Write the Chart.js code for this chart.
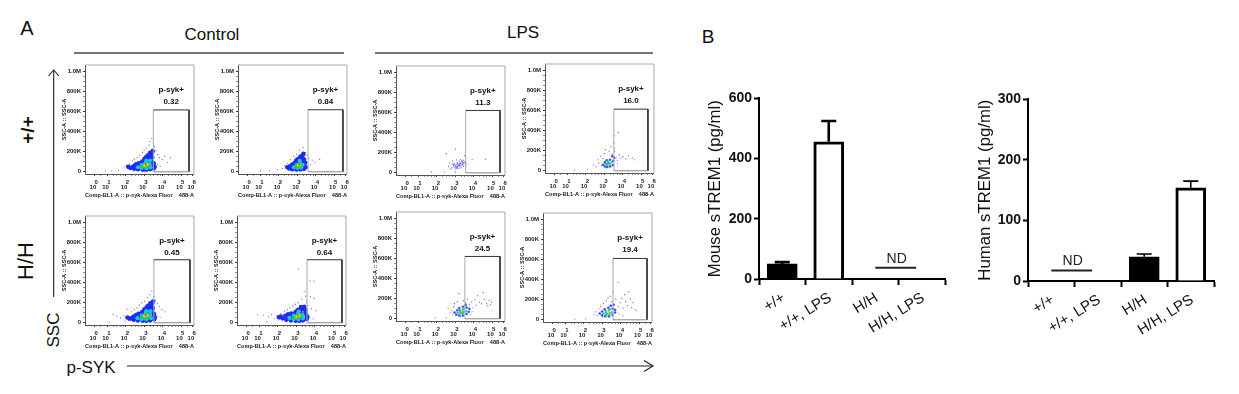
<!DOCTYPE html>
<html>
<head>
<meta charset="utf-8">
<title>p-SYK flow cytometry and sTREM1</title>
<script src="https://cdn.jsdelivr.net/npm/chart.js@4"></script>
<style>
html,body{margin:0;padding:0;background:#fff;width:1239px;height:394px;overflow:hidden}
body{position:relative;font-family:"Liberation Sans",Arial,sans-serif;color:#111}
canvas{position:absolute;display:block}
canvas.flow{filter:blur(0.4px)}
.t{position:absolute;white-space:nowrap;line-height:1;transform:translate(-50%,-50%)}
.r{transform:translate(-50%,-50%) rotate(-90deg)}
svg{position:absolute;left:0;top:0}
</style>
</head>
<body>
<svg width="1239" height="394" fill="none" stroke="#222">
  <line x1="74" y1="53" x2="344" y2="53" stroke="#444" stroke-width="1.3"/>
  <line x1="375" y1="53" x2="653" y2="53" stroke="#444" stroke-width="1.3"/>
  <line x1="53.7" y1="70" x2="53.7" y2="297" stroke-width="1.1"/>
  <polyline points="48.5,76 53.7,70 58.9,76" stroke-width="1.1"/>
  <line x1="127" y1="366" x2="653" y2="366" stroke-width="1.1"/>
  <polyline points="644,360.5 653,366 644,371.5" stroke-width="1.1"/>
</svg>
<div class="t" style="left:27px;top:28px;font-size:20px">A</div>
<div class="t" style="left:708px;top:36px;font-size:19px">B</div>
<div class="t" style="left:212px;top:34px;font-size:17px">Control</div>
<div class="t" style="left:523px;top:32px;font-size:17px">LPS</div>
<div class="t r" style="left:27px;top:130px;font-size:19px;font-weight:bold">+/+</div>
<div class="t r" style="left:26px;top:261px;font-size:22px">H/H</div>
<div class="t r" style="left:53px;top:330px;font-size:17px">SSC</div>
<div class="t" style="left:91px;top:367px;font-size:17px">p-SYK</div>

<script>
/* ---------- Panel A: axes ---------- */
const flowXTicks = [0.32, 1, 2, 3, 4, 5, 5.62];
const flowXExponents = ['0', '1', '2', '3', '4', '5', '6'];
const flowXMinor = [0.6, 1.3, 1.5, 1.7, 1.85, 2.3, 2.5, 2.7, 2.85, 3.3, 3.5, 3.7, 3.85, 4.3, 4.5, 4.7, 4.85, 5.3];
const flowYMajor = [0, 200, 400, 600, 800, 1000];
const flowYLabels = ['0', '200K', '400K', '600K', '800K', '1.0M'];
const flowYMinor = [50, 100, 150, 250, 300, 350, 450, 500, 550, 650, 700, 750, 850, 900, 950];
const flowXTitle = 'Comp-BL1-A :: p-syk-Alexa Fluor    488-A';
const flowYTitle = 'SSC-A :: SSC-A';
const gateName = 'p-syk+';

/* Percentages and gates: [x from, x to, SSC top] */
const gateValues = ['0.32', '0.84', '11.3', '16.0', '0.45', '0.64', '24.5', '19.4'];
const gateBounds = [[3.48,5.41,615],[3.57,5.46,617],[3.55,5.41,620],[3.51,5.35,613],[3.51,5.46,627],[3.57,5.46,627],[3.51,5.41,620],[3.57,5.41,610]];

/* Events as [log position, SSC in K], by density colour */
const p1Sparse = [[1.9,40],[2.0,62],[2.12,30],[2.2,78],[2.35,110],[2.45,125],[2.6,140],[2.75,165],[2.9,190],[2.98,215],[3.1,235],[3.25,265],[3.3,300],[3.4,330],[3.55,250],[3.62,210],[3.72,170],[3.8,140],[3.95,120],[4.1,155],[4.25,95],[4.4,140],[3.7,75],[3.85,55],[1.6,12],[1.2,8],[0.9,10],[2.4,8],[3.0,6]];
const p1Blue = [[2.25,38],[2.45,30],[2.65,25],[2.9,22],[3.1,22],[3.3,25],[3.5,32],[2.45,60],[2.7,55],[2.95,42],[3.2,45],[3.45,60],[2.7,85],[2.88,102],[3.12,100],[3.38,100],[3.0,130],[3.2,136],[3.42,142],[3.2,165],[3.38,175],[3.44,205],[2.12,50],[2.35,45],[2.55,42],[2.55,75],[2.82,80],[3.02,112],[3.1,150],[3.3,152],[3.5,85],[3.55,50],[3.3,188]];
const p1Cyan = [[2.65,45],[2.85,38],[3.1,36],[3.32,44],[2.85,70],[3.06,88],[3.28,75],[3.1,112],[3.3,112]];
const p1Green = [[2.85,55],[3.0,50],[3.18,55],[3.05,76],[3.2,80]];
const p1Hot = [[3.0,62],[3.1,66],[3.16,72]];
const p1Core = [[3.08,68]];

const p2Sparse = [[2.2,32],[2.3,60],[2.45,85],[2.62,120],[2.8,155],[2.95,175],[3.1,215],[3.3,240],[3.42,190],[3.52,165],[3.62,130],[3.8,115],[3.95,95],[4.2,125],[3.7,70],[1.9,22],[1.5,10],[1.0,8],[2.8,12],[3.3,10]];
const p2Blue = [[2.55,32],[2.72,26],[2.95,23],[3.15,24],[3.35,30],[2.6,55],[2.82,60],[3.05,50],[3.35,60],[2.85,88],[3.05,100],[3.3,95],[3.0,125],[3.2,132],[3.35,125],[3.26,158],[2.45,45],[2.72,72],[2.92,108],[3.15,148],[3.45,45],[3.42,90],[3.32,178]];
const p2Cyan = [[2.8,45],[3.0,38],[3.2,42],[2.95,70],[3.15,82],[3.28,68],[3.12,108]];
const p2Green = [[2.92,55],[3.08,52],[3.2,60],[3.1,78]];
const p2Hot = [[3.03,64],[3.13,68]];
const p2Core = [[3.1,72]];

const p3Sparse = [[2.5,190],[2.62,62],[2.7,98],[2.72,40],[2.8,48],[2.85,118],[2.9,72],[2.95,92],[2.98,38],[3.0,235],[3.02,62],[3.05,128],[3.08,80],[3.1,104],[3.12,52],[3.16,72],[3.2,115],[3.22,92],[3.25,60],[3.28,132],[3.3,82],[3.35,70],[3.38,102],[3.42,125],[3.45,88],[3.5,170],[3.52,112],[3.55,150],[3.6,95],[3.9,130],[4.62,135],[3.0,6],[2.4,8],[1.7,10],[2.84,86],[2.92,56],[3.06,44],[3.18,42],[3.32,50],[3.44,66],[3.56,72]];
const p3Blue = [[3.0,70],[3.12,65],[3.2,85],[3.1,92],[3.28,95],[2.92,84],[3.35,115],[3.04,56],[3.24,72],[3.38,86],[3.46,104]];
const p3Cyan = [];
const p3Green = [];
const p3Hot = [];
const p3Core = [];

const p4Sparse = [[2.4,60],[2.55,40],[2.65,110],[2.7,78],[2.8,145],[2.85,50],[2.92,120],[3.0,170],[3.05,210],[3.1,30],[3.25,195],[3.35,240],[3.42,165],[3.5,350],[3.5,280],[3.52,225],[3.55,190],[3.62,130],[3.7,105],[3.75,380],[3.8,160],[3.9,125],[4.0,140],[4.15,118],[4.3,150],[4.5,125],[4.62,110],[3.7,70],[2.1,15],[1.4,8]];
const p4Blue = [[2.92,60],[3.02,42],[3.15,38],[3.3,42],[3.45,55],[3.02,85],[3.12,105],[3.3,110],[3.48,100],[3.52,130],[3.42,145]];
const p4Cyan = [[3.05,68],[3.15,58],[3.28,62],[3.4,85],[3.2,90]];
const p4Green = [[3.14,72],[3.22,78],[3.28,72]];
const p4Hot = [];
const p4Core = [];

const p5Sparse = [[1.3,82],[1.5,65],[1.7,48],[1.85,70],[1.95,20],[2.05,135],[2.15,55],[2.3,110],[2.45,130],[2.6,150],[2.72,175],[2.85,200],[3.0,215],[3.15,250],[3.3,280],[3.4,315],[3.52,260],[3.6,225],[3.7,190],[3.8,160],[3.95,130],[4.1,110],[3.7,70],[3.85,50],[2.6,8],[3.1,6],[1.1,8]];
const p5Blue = [[2.2,40],[2.42,30],[2.65,24],[2.9,20],[3.1,20],[3.3,24],[3.52,35],[2.42,62],[2.68,58],[2.95,40],[3.2,42],[3.5,65],[2.68,90],[2.88,108],[3.12,105],[3.42,105],[3.0,135],[3.22,142],[3.45,145],[3.2,170],[3.4,180],[3.46,210],[2.08,52],[2.32,46],[2.55,44],[2.55,78],[2.82,82],[3.02,118],[3.12,155],[3.32,158],[3.52,88],[3.56,52],[3.32,195]];
const p5Cyan = [[2.62,46],[2.85,36],[3.1,34],[3.35,46],[2.85,72],[3.06,90],[3.3,78],[3.1,115],[3.32,115]];
const p5Green = [[2.85,56],[3.0,50],[3.18,56],[3.05,78],[3.2,82]];
const p5Hot = [[3.0,64],[3.1,68],[3.16,74]];
const p5Core = [[3.08,70]];

const p6Sparse = [[0.9,80],[1.2,75],[1.5,60],[1.65,82],[1.8,40],[1.95,72],[2.05,30],[2.15,95],[2.25,20],[2.35,115],[2.5,130],[2.65,150],[2.8,165],[2.95,185],[3.1,535],[3.1,200],[3.3,235],[3.42,310],[3.5,265],[3.55,205],[3.62,170],[3.73,417],[3.75,260],[3.8,140],[3.95,415],[3.95,240],[4.05,120],[3.7,60],[3.9,40],[2.7,8],[3.3,8],[1.4,10]];
const p6Blue = [[2.05,55],[2.25,45],[2.45,30],[2.7,24],[2.95,20],[3.15,20],[3.35,26],[3.55,38],[2.4,70],[2.68,62],[2.95,42],[3.25,45],[3.55,70],[2.72,92],[2.95,108],[3.2,105],[3.48,100],[3.1,130],[3.32,135],[3.48,130],[3.42,160],[2.15,62],[2.55,48],[2.55,84],[2.84,84],[3.05,122],[3.24,156],[3.58,54]];
const p6Cyan = [[2.62,48],[2.85,36],[3.1,34],[3.35,44],[2.85,72],[3.08,88],[3.32,76],[3.12,112]];
const p6Green = [[2.85,55],[3.0,50],[3.18,55],[3.05,76],[3.22,78]];
const p6Hot = [[3.0,62],[3.1,66],[3.16,72]];
const p6Core = [[3.08,68]];

const p7Sparse = [[2.6,105],[2.72,60],[2.8,85],[2.85,40],[2.9,120],[2.95,150],[3.02,32],[3.1,170],[3.2,250],[3.28,20],[3.42,180],[3.55,160],[3.65,195],[3.75,140],[3.82,40],[3.88,170],[3.95,110],[4.05,190],[4.12,135],[4.2,230],[4.3,165],[4.42,150],[4.5,260],[4.58,190],[4.68,150],[4.75,130],[4.82,185],[4.9,140],[4.95,165],[3.9,70],[1.9,10],[2.5,8]];
const p7Blue = [[2.95,62],[3.05,42],[3.2,32],[3.4,32],[3.6,48],[3.72,70],[3.1,85],[3.2,108],[3.4,120],[3.6,112],[3.75,100],[3.55,138]];
const p7Cyan = [[3.12,62],[3.25,50],[3.42,52],[3.58,75],[3.25,88],[3.45,102]];
const p7Green = [[3.24,70],[3.34,62],[3.46,70],[3.4,88]];
const p7Hot = [[3.34,76],[3.42,82]];
const p7Core = [[3.38,80]];

const p8Sparse = [[2.55,55],[2.65,80],[2.72,40],[2.8,110],[2.9,135],[3.0,28],[3.05,165],[3.2,190],[3.3,215],[3.42,235],[3.5,180],[3.55,270],[3.65,150],[3.72,205],[3.84,370],[3.85,130],[3.95,170],[4.05,215],[4.12,115],[4.2,250],[4.25,180],[4.35,140],[4.42,280],[4.5,205],[4.58,120],[4.65,170],[4.75,105],[4.82,90],[3.9,60],[4.1,40],[2.1,10],[1.5,8]];
const p8Blue = [[2.85,62],[2.98,45],[3.15,36],[3.35,34],[3.55,48],[3.68,72],[2.98,82],[3.12,105],[3.32,118],[3.55,110],[3.68,100],[3.45,140],[3.6,150]];
const p8Cyan = [[3.05,62],[3.2,50],[3.38,50],[3.52,72],[3.18,88],[3.4,102]];
const p8Green = [[3.18,70],[3.28,62],[3.4,70],[3.34,88]];
const p8Hot = [[3.28,76],[3.36,82]];
const p8Core = [];

/* ---------- Panel B: bars ---------- */
const barCategories = ['+/+', '+/+, LPS', 'H/H', 'H/H, LPS'];
const mouseValues = [50, 456, null, null];
const mouseErrorTops = [56, 525, null, null];
const mouseTicks = [0, 200, 400, 600];
const mouseTitle = 'Mouse sTREM1 (pg/ml)';
const mouseNdLevel = 37;
const humanValues = [null, null, 40, 154];
const humanErrorTops = [null, null, 44.5, 165];
const humanTicks = [0, 100, 200, 300];
const humanTitle = 'Human sTREM1 (pg/ml)';
const humanNdLevel = 17.5;
const notDetected = 'ND';
const barFills = ['#000000', '#ffffff', '#000000', '#ffffff'];
const humanFills = ['#ffffff', '#ffffff', '#000000', '#ffffff'];

/* ---------- Layout and drawing ---------- */
const FONT = '"Liberation Sans", Arial, sans-serif';
const frames = [[85,173],[238,173],[396,174],[545,172],[85,324],[237,324],[396,320.5],[543,321.5]];
const sparse = [p1Sparse,p2Sparse,p3Sparse,p4Sparse,p5Sparse,p6Sparse,p7Sparse,p8Sparse];
const blue = [p1Blue,p2Blue,p3Blue,p4Blue,p5Blue,p6Blue,p7Blue,p8Blue];
const cyan = [p1Cyan,p2Cyan,p3Cyan,p4Cyan,p5Cyan,p6Cyan,p7Cyan,p8Cyan];
const green = [p1Green,p2Green,p3Green,p4Green,p5Green,p6Green,p7Green,p8Green];
const hot = [p1Hot,p2Hot,p3Hot,p4Hot,p5Hot,p6Hot,p7Hot,p8Hot];
const core = [p1Core,p2Core,p3Core,p4Core,p5Core,p6Core,p7Core,p8Core];

/* dot radii by colour band: control panels are dense, LPS panels thin */
const denseRadii = {blue: 2.3, cyan: 2.1, green: 1.7, hot: 1.2, core: 0.9};
const thinRadii = {blue: 1.3, cyan: 1.25, green: 1.1, hot: 0.9, core: 0.7};
const thinPanels = [2, 3, 6, 7];

function addCanvas(left, top, w, h, cls) {
  const c = document.createElement('canvas');
  c.width = w; c.height = h;
  c.style.cssText = `left:${left}px;top:${top}px;width:${w}px;height:${h}px`;
  if (cls) c.className = cls;
  document.body.appendChild(c);
  return c;
}
const pts = a => a.map(p => ({x: p[0], y: p[1]}));
const dots = (a, color, r, order) => ({
  type: 'scatter', data: pts(a), backgroundColor: color, borderWidth: 0,
  pointRadius: r, pointHoverRadius: r, order
});

const flowFrame = {
  id: 'flowFrame',
  beforeDatasetsDraw(chart) {
    const {ctx, chartArea: a} = chart;
    ctx.save();
    ctx.strokeStyle = '#a8a8a8'; ctx.lineWidth = 1;
    ctx.beginPath();
    ctx.moveTo(a.left, a.top); ctx.lineTo(a.right, a.top); ctx.lineTo(a.right, a.bottom);
    ctx.stroke();
    ctx.restore();
  },
  afterDatasetsDraw(chart, _a, o) {
    const {ctx, scales: {x, y}} = chart;
    ctx.save();
    ctx.fillStyle = '#111'; ctx.textAlign = 'center'; ctx.textBaseline = 'middle';
    ctx.font = `bold 8px ${FONT}`;
    const cx = x.getPixelForValue((o.bounds[0] + o.bounds[1]) / 2);
    ctx.fillText(gateName, cx, y.getPixelForValue(815));
    ctx.fillText(o.value, cx, y.getPixelForValue(700));
    ctx.restore();
  }
};

frames.forEach((f, i) => {
  const [l, b] = f;
  const W = 109, H = 108.4, padTop = 6, padRight = 8, yW = 24, xH = 25;
  const canvas = addCanvas(l - yW, Math.round(b - H - padTop), yW + W + padRight, Math.ceil(H + padTop + xH), 'flow');
  const g = gateBounds[i];
  const thin = thinPanels.includes(i);
  const rad = thin ? thinRadii : denseRadii;
  new Chart(canvas, {
    data: {datasets: [
      {type: 'scatter', showLine: true, data: [{x:g[0],y:0},{x:g[0],y:g[2]},{x:g[1],y:g[2]},{x:g[1],y:0},{x:g[0],y:0}],
       borderColor: '#333', borderWidth: 1, pointRadius: 0, fill: false, order: 0,
       segment: {borderColor: c => c.p0DataIndex === 0 ? '#aaaaaa' : (c.p0DataIndex === 3 ? '#888888' : '#333333')}},
      dots(core[i], '#e8341c', rad.core, 1),
      dots(hot[i], '#eee020', rad.hot, 2),
      dots(green[i], '#35c53a', rad.green, 3),
      dots(cyan[i], '#1bc4e8', rad.cyan, 4),
      dots(blue[i], i === 2 ? '#7a7ae8' : (thin ? '#3f4ff0' : '#1d2cf0'), i === 2 ? 0.9 : rad.blue, 5),
      dots(sparse[i], '#5a5ae6', 0.6, 6)
    ]},
    options: {
      responsive: false, animation: false, devicePixelRatio: 1,
      layout: {padding: {top: padTop, right: padRight, left: 0, bottom: 0}},
      plugins: {legend: {display: false}, tooltip: {enabled: false}, flowFrame: {bounds: g, value: gateValues[i]}},
      scales: {
        x: {
          type: 'linear', min: -0.216, max: 5.676,
          afterBuildTicks: s => { s.ticks = flowXTicks.concat(flowXMinor).sort((a, c) => a - c).map(v => ({value: v})); },
          afterFit: s => { s.height = xH; },
          grid: {drawOnChartArea: false, drawTicks: true, tickLength: 2, tickColor: '#222', tickWidth: c => flowXTicks.includes(c.tick.value) ? 0.9 : 0.5},
          border: {display: true, color: '#555', width: 1},
          ticks: {
            autoSkip: false, maxRotation: 0, minRotation: 0, padding: 4, labelOffset: -2, color: '#222',
            font: {family: FONT, size: 6, weight: 'bold', lineHeight: 0.85},
            callback: v => { const k = flowXTicks.indexOf(v); return k < 0 ? '' : ['    ' + flowXExponents[k], '10']; }
          },
          title: {display: true, text: flowXTitle, color: '#222', padding: 0, font: {family: FONT, size: 6, weight: 'bold', lineHeight: 1.2}}
        },
        y: {
          type: 'linear', min: -22, max: 1062,
          afterBuildTicks: s => { s.ticks = flowYMajor.concat(flowYMinor).sort((a, c) => a - c).map(v => ({value: v})); },
          afterFit: s => { s.width = yW; },
          grid: {drawOnChartArea: false, drawTicks: true, tickLength: 2, tickColor: '#222', tickWidth: c => flowYMajor.includes(c.tick.value) ? 0.9 : 0.5},
          border: {display: true, color: '#555', width: 1},
          ticks: {
            autoSkip: false, padding: 2, color: '#222', font: {family: FONT, size: 6, weight: 'bold'},
            callback: v => { const k = flowYMajor.indexOf(v); return k < 0 ? '' : flowYLabels[k]; }
          },
          title: {display: true, text: flowYTitle, color: '#222', padding: 0, font: {family: FONT, size: 5.6, weight: 'bold', lineHeight: 1.2}}
        }
      }
    },
    plugins: [flowFrame]
  });
});

const barExtras = {
  id: 'barExtras',
  afterDatasetsDraw(chart, _a, o) {
    const {ctx, scales: {x, y}} = chart;
    ctx.save();
    ctx.strokeStyle = '#000'; ctx.lineWidth = o.errorWidth;
    o.errorTops.forEach((top, i) => {
      if (top == null) return;
      const cx = x.getPixelForValue(i), y0 = y.getPixelForValue(chart.data.datasets[0].data[i]), y1 = y.getPixelForValue(top);
      ctx.beginPath();
      ctx.moveTo(cx, y0); ctx.lineTo(cx, y1);
      ctx.moveTo(cx - 7.5, y1); ctx.lineTo(cx + 7.5, y1);
      ctx.stroke();
    });
    const x0 = x.getPixelForValue(o.ndIndex), x1 = x.getPixelForValue(o.ndIndex + 0.88), yn = y.getPixelForValue(o.ndLevel);
    ctx.strokeStyle = '#222'; ctx.lineWidth = 2;
    ctx.beginPath(); ctx.moveTo(x0, yn); ctx.lineTo(x1, yn); ctx.stroke();
    ctx.fillStyle = '#222'; ctx.font = `14px ${FONT}`; ctx.textAlign = 'center'; ctx.textBaseline = 'alphabetic';
    ctx.fillText(notDetected, (x0 + x1) / 2 + 1, yn - 5);
    ctx.restore();
  }
};

function barChart(cfg) {
  const top = cfg.top - 10, yW = cfg.axisLeft - cfg.left, h = cfg.bottom - top + 70;
  const canvas = addCanvas(cfg.left, top, yW + cfg.plotW + 8, Math.round(h));
  new Chart(canvas, {
    type: 'bar',
    data: {labels: barCategories, datasets: [{
      data: cfg.values, backgroundColor: cfg.fills, borderColor: '#000', borderWidth: 3,
      borderSkipped: 'bottom', barThickness: 30
    }]},
    options: {
      responsive: false, animation: false, devicePixelRatio: 1,
      layout: {padding: {top: 10, right: 8, left: 0, bottom: 0}},
      plugins: {legend: {display: false}, tooltip: {enabled: false},
        barExtras: {errorTops: cfg.errorTops, errorWidth: cfg.errorWidth, ndIndex: cfg.ndIndex, ndLevel: cfg.ndLevel}},
      scales: {
        x: {
          type: 'category',
          afterFit: s => { s.height = 70; },
          grid: {drawOnChartArea: false, drawTicks: true, tickLength: 6, tickColor: '#000', tickWidth: 2},
          border: {display: true, color: '#000', width: 2},
          ticks: {autoSkip: false, maxRotation: 32, minRotation: 32, padding: 4, labelOffset: 1.5, color: '#111', font: {family: FONT, size: 15}}
        },
        y: {
          type: 'linear', min: cfg.ticks[0], max: cfg.ticks[cfg.ticks.length - 1],
          afterBuildTicks: s => { s.ticks = cfg.ticks.map(v => ({value: v})); },
          afterFit: s => { s.width = yW; },
          grid: {drawOnChartArea: false, drawTicks: true, tickLength: 5, tickColor: '#000', tickWidth: 2},
          border: {display: true, color: '#000', width: 2},
          ticks: {padding: 2, color: '#111', font: {family: FONT, size: 14, weight: 'bold'}},
          title: {display: true, text: cfg.title, color: '#111', padding: 0, font: {family: FONT, size: 16.8, lineHeight: 1.2}}
        }
      }
    },
    plugins: [barExtras]
  });
}
barChart({left: 705, axisLeft: 759, plotW: 186, top: 98, bottom: 279, values: mouseValues, errorTops: mouseErrorTops,
  fills: barFills, ticks: mouseTicks, title: mouseTitle, ndIndex: 2, ndLevel: mouseNdLevel, errorWidth: 2.6});
barChart({left: 975, axisLeft: 1028, plotW: 186, top: 99, bottom: 281, values: humanValues, errorTops: humanErrorTops,
  fills: humanFills, ticks: humanTicks, title: humanTitle, ndIndex: 0, ndLevel: humanNdLevel, errorWidth: 1.6});
</script>
</body>
</html>
